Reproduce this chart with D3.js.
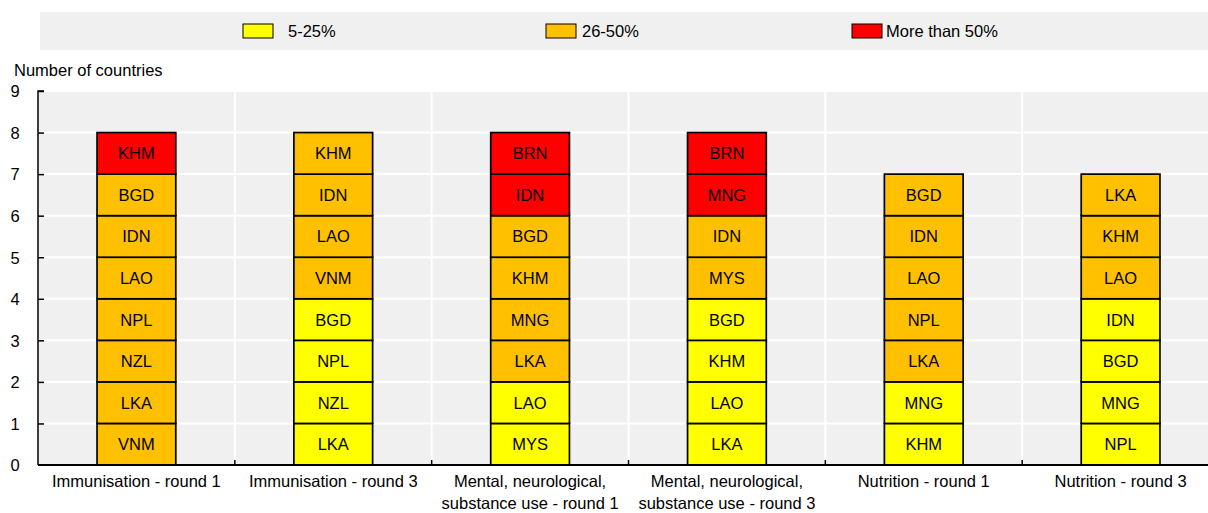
<!DOCTYPE html>
<html>
<head>
<meta charset="utf-8">
<script src="https://cdn.jsdelivr.net/npm/d3@7"></script>
<style>
  html, body { margin: 0; padding: 0; background: #fff; }
  svg { display: block; }
  text { font-family: "Liberation Sans Narrow", "Arial Narrow", "Liberation Sans", Arial, sans-serif; fill: #000; }
</style>
</head>
<body>
<svg id="chart" width="1208" height="513"></svg>
<script>
// ---- data ----
const categories = [
  ["Immunisation - round 1"],
  ["Immunisation - round 3"],
  ["Mental, neurological,", "substance use - round 1"],
  ["Mental, neurological,", "substance use - round 3"],
  ["Nutrition - round 1"],
  ["Nutrition - round 3"]
];
const levels = ["5-25%", "26-50%", "More than 50%"];
const levelColors = ["#ffff00", "#ffc000", "#ff0000"];
// countries stacked bottom to top, with their level index
const countries = [
  ["VNM", "LKA", "NZL", "NPL", "LAO", "IDN", "BGD", "KHM"],
  ["LKA", "NZL", "NPL", "BGD", "VNM", "LAO", "IDN", "KHM"],
  ["MYS", "LAO", "LKA", "MNG", "KHM", "BGD", "IDN", "BRN"],
  ["LKA", "LAO", "KHM", "BGD", "MYS", "IDN", "MNG", "BRN"],
  ["KHM", "MNG", "LKA", "NPL", "LAO", "IDN", "BGD"],
  ["NPL", "MNG", "BGD", "IDN", "LAO", "KHM", "LKA"]
];
const countryLevels = [
  [1, 1, 1, 1, 1, 1, 1, 2],
  [0, 0, 0, 0, 1, 1, 1, 1],
  [0, 0, 1, 1, 1, 1, 2, 2],
  [0, 0, 0, 0, 1, 1, 2, 2],
  [0, 0, 1, 1, 1, 1, 1],
  [0, 0, 0, 0, 1, 1, 1]
];
const yTicks = [0, 1, 2, 3, 4, 5, 6, 7, 8, 9];
const yTitle = "Number of countries";

// ---- layout ----
const FS = 16.5;
const svg = d3.select("#chart");
const pLeft = 38, pRight = 1219, pTop = 91, pBottom = 465;
const x = d3.scaleBand().domain(d3.range(categories.length)).range([pLeft, pRight]).padding(0);
const y = d3.scaleLinear().domain([0, 9]).range([pBottom, pTop]);
const barW = x.bandwidth() * 0.4;

// legend band
svg.append("rect").attr("x", 40).attr("y", 12).attr("width", 1168).attr("height", 38).attr("fill", "#f0f0f0");
const legendX = [243, 546, 852];
const legendTextX = [288, 582, 886];
levels.forEach((l, i) => {
  svg.append("rect").attr("x", legendX[i]).attr("y", 24).attr("width", 30).attr("height", 14)
    .attr("fill", levelColors[i]).attr("stroke", "#000").attr("stroke-width", 1);
  svg.append("text").attr("x", legendTextX[i]).attr("y", 37).attr("font-size", FS).text(l);
});

// plot background
svg.append("rect").attr("x", pLeft).attr("y", pTop).attr("width", 1208 - pLeft).attr("height", pBottom - pTop).attr("fill", "#f0f0f0");

// gridlines
const g = svg.append("g");
yTicks.slice(1).forEach(t => {
  g.append("line").attr("x1", pLeft).attr("x2", 1208).attr("y1", y(t)).attr("y2", y(t))
    .attr("stroke", "#fff").attr("stroke-width", 2);
});
d3.range(1, categories.length).forEach(i => {
  g.append("line").attr("x1", x(i)).attr("x2", x(i)).attr("y1", pTop).attr("y2", pBottom)
    .attr("stroke", "#fff").attr("stroke-width", 2);
});

// bars
categories.forEach((c, ci) => {
  const cx = x(ci) + x.bandwidth() / 2;
  countries[ci].forEach((code, k) => {
    svg.append("rect")
      .attr("x", cx - barW / 2).attr("y", y(k + 1))
      .attr("width", barW).attr("height", y(k) - y(k + 1))
      .attr("fill", levelColors[countryLevels[ci][k]])
      .attr("stroke", "#000").attr("stroke-width", 1.7);
    svg.append("text").attr("x", cx).attr("y", (y(k) + y(k + 1)) / 2 + 6)
      .attr("text-anchor", "middle").attr("font-size", FS).text(code);
  });
});

// y axis
const yAxis = d3.axisLeft(y).tickValues(yTicks).tickSize(-6).tickPadding(14);
const ya = svg.append("g").attr("transform", `translate(${pLeft},0)`).call(yAxis);
ya.select(".domain").attr("stroke", "#000").attr("stroke-width", 1.5).attr("d", `M6,${pTop}H0V${pBottom}`);
ya.selectAll(".tick line").attr("stroke", "#000").attr("stroke-width", 1.5);
ya.selectAll(".tick text").attr("font-size", FS).attr("text-anchor", "middle").attr("x", -23).attr("dy", "0.35em");
ya.selectAll(".tick").filter(d => d === 0).select("line").remove();

// x axis line + ticks
svg.append("line").attr("x1", pLeft).attr("x2", 1208).attr("y1", pBottom).attr("y2", pBottom)
  .attr("stroke", "#000").attr("stroke-width", 2);
d3.range(1, categories.length).forEach(i => {
  svg.append("line").attr("x1", x(i)).attr("x2", x(i)).attr("y1", pBottom).attr("y2", pBottom - 5)
    .attr("stroke", "#000").attr("stroke-width", 1.5);
});

// category labels
categories.forEach((c, ci) => {
  const t = svg.append("text").attr("x", x(ci) + x.bandwidth() / 2).attr("y", 487)
    .attr("text-anchor", "middle").attr("font-size", FS);
  c.forEach((line, li) => {
    t.append("tspan").attr("x", x(ci) + x.bandwidth() / 2).attr("dy", li === 0 ? 0 : 22).text(line);
  });
});

// y title
svg.append("text").attr("x", 14).attr("y", 76).attr("font-size", FS).text(yTitle);
</script>
</body>
</html>
